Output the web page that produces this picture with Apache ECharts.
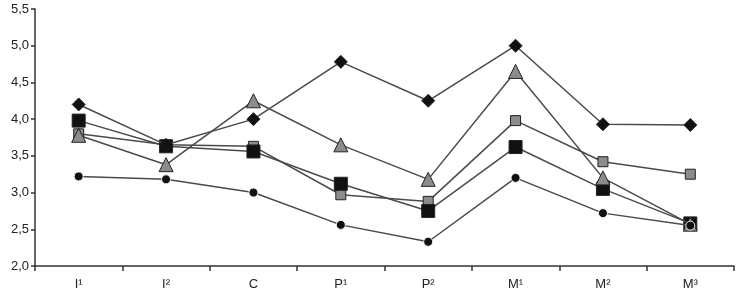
<!DOCTYPE html>
<html>
<head>
<meta charset="utf-8">
<script src="https://cdn.jsdelivr.net/npm/echarts@6/dist/echarts.min.js"></script>
<style>
  html, body { margin: 0; padding: 0; background: #fff; }
  #chart { width: 736px; height: 297px; }
</style>
</head>
<body>
<div id="chart"></div>
<script>
var categories = ['I\u00b9', 'I\u00b2', 'C', 'P\u00b9', 'P\u00b2', 'M\u00b9', 'M\u00b2', 'M\u00b3'];
var diamondVals = [4.2, 3.65, 4.0, 4.78, 4.25, 5.0, 3.93, 3.92];
var triangleVals = [3.78, 3.38, 4.25, 3.65, 3.18, 4.65, 3.2, 2.57];
var blackSquareVals = [3.98, 3.63, 3.56, 3.12, 2.75, 3.62, 3.05, 2.58];
var graySquareVals = [3.8, 3.65, 3.63, 2.97, 2.88, 3.98, 3.42, 3.25];
var circleVals = [3.22, 3.18, 3.0, 2.56, 2.33, 3.2, 2.72, 2.55];

var lineColor = '#4a4a4a';

function makeSeries(name, data, symbol, size, fill, border, z) {
    return {
        name: name,
        type: 'line',
        data: data,
        symbol: symbol,
        symbolSize: size,
        z: z,
        lineStyle: { color: lineColor, width: 1.5 },
        itemStyle: { color: fill, borderColor: border, borderWidth: 1 },
        emphasis: { disabled: true }
    };
}

var chart = echarts.init(document.getElementById('chart'));
var option = {
    animation: false,
    grid: { left: 35, right: 2, top: 9, bottom: 31, containLabel: false },
    xAxis: {
        type: 'category',
        data: categories,
        boundaryGap: true,
        axisLine: { lineStyle: { color: '#333', width: 1.5 } },
        axisTick: { show: true, length: 5, lineStyle: { color: '#333', width: 1.5 } },
        axisLabel: { color: '#222', fontSize: 13, fontFamily: 'Liberation Sans', margin: 12 }
    },
    yAxis: {
        type: 'value',
        min: 2, max: 5.5, interval: 0.5,
        axisLine: { show: true, lineStyle: { color: '#333', width: 1.5 } },
        axisTick: { show: true, length: 4, lineStyle: { color: '#333', width: 1.5 } },
        splitLine: { show: false },
        axisLabel: {
            color: '#222', fontSize: 13, fontFamily: 'Liberation Sans', margin: 6,
            formatter: function (v) { return v.toFixed(1).replace('.', ','); }
        }
    },
    series: [
        makeSeries('graySquare', graySquareVals, 'rect', 10, '#8c8c8c', '#222', 3),
        makeSeries('blackSquare', blackSquareVals, 'rect', 13, '#111', '#222', 4),
        makeSeries('triangle', triangleVals, 'triangle', 14, '#8c8c8c', '#222', 5),
        makeSeries('diamond', diamondVals, 'diamond', 13, '#111', '#222', 6),
        makeSeries('circle', circleVals, 'circle', 9, '#111', '#eee', 7)
    ]
};
chart.setOption(option, true);
</script>
</body>
</html>
